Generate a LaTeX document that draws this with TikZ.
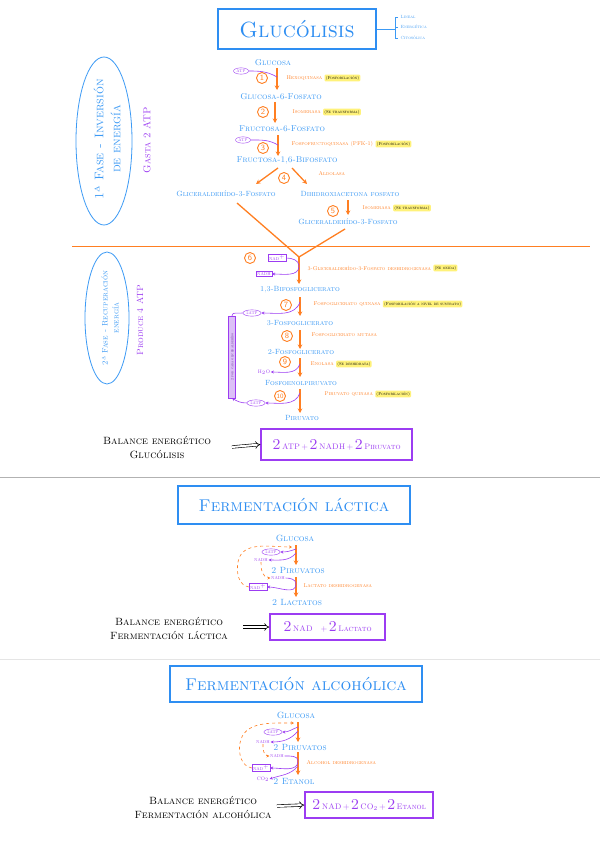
\documentclass[tikz,border=0pt]{standalone}
\usepackage{fontspec}
\usetikzlibrary{arrows.meta,shapes.geometric,positioning}
\definecolor{bl}{HTML}{3C9AF5}
\definecolor{tb}{HTML}{2E8EF2}
\definecolor{og}{HTML}{FF7F22}
\definecolor{pu}{HTML}{9C3CF2}
\definecolor{yl}{HTML}{FFF27A}
\definecolor{lav}{HTML}{DCC0F7}
\newcommand{\bigtwo}{{\fontsize{15}{15}\selectfont 2}}
\begin{document}
\begin{tikzpicture}[x=1pt,y=-1pt,
  bt/.style={text=bl, font=\fontsize{8.5}{9}\selectfont\scshape, inner sep=0.5pt},
  bts/.style={text=bl, font=\fontsize{7.5}{8}\selectfont\scshape, inner sep=0.5pt},
  ot/.style={text=og, font=\fontsize{5.5}{6}\selectfont\scshape, inner sep=0.5pt, anchor=west},
  hl/.style={fill=yl, rounded corners=1pt, font=\fontsize{4.2}{4.5}\selectfont\scshape, inner sep=1.2pt},
  num/.style={circle, draw=og, line width=0.9pt, text=og, minimum size=11pt, inner sep=0pt, font=\fontsize{8}{8}\selectfont\sffamily},
  oarr/.style={draw=og, line width=1.3pt, -{Stealth[length=4.5pt,width=4.5pt]}},
  pl/.style={draw=pu, line width=0.6pt},
  pell/.style={ellipse, draw=pu, text=pu, font=\fontsize{4}{4}\selectfont\scshape, inner sep=0.8pt},
  pbox/.style={draw=pu, text=pu, font=\fontsize{4.2}{4.5}\selectfont\scshape, inner sep=1pt},
  ptxt/.style={text=pu, font=\fontsize{4.2}{4.5}\selectfont\scshape, inner sep=0.5pt},
  odash/.style={draw=og, dashed, line width=0.6pt, -{Stealth[length=3pt,width=3pt]}},
  titlebox/.style={draw=tb, line width=2.5pt, text=tb, inner sep=0pt},
  resbox/.style={draw=pu, line width=1.5pt, text=pu, inner sep=0pt, font=\fontsize{8}{9}\selectfont\scshape},
  baltxt/.style={align=center, font=\fontsize{10.5}{14}\selectfont\scshape},
  dbl/.style={double, double distance=2pt, line width=0.6pt, -{Implies}}
]
\useasboundingbox (0,0) rectangle (600,848);
\fill[white] (0,0) rectangle (600,848);

% ---------------- Title ----------------
\node[titlebox, minimum width=158, minimum height=40, font=\fontsize{22}{22}\selectfont\scshape] (title) at (297,29) {Glucólisis};
\coordinate (br) at (395,29);
\draw[bl, line width=0.5pt] (title.east) -- (br);
\draw[bl, line width=0.5pt] (398,17) -- (395,17) -- (395,38) -- (398,38);
\draw[bl, line width=0.5pt] (395,27) -- (398,27);
\node[text=bl, font=\fontsize{4.5}{5}\selectfont\scshape, anchor=west, inner sep=0.5pt] (c1) at (400,17) {Lineal};
\node[text=bl, font=\fontsize{4.5}{5}\selectfont\scshape, anchor=west, inner sep=0.5pt] (c2) at (400,27) {Energética};
\node[text=bl, font=\fontsize{4.5}{5}\selectfont\scshape, anchor=west, inner sep=0.5pt] (c3) at (400,38) {Citosólica};

% ---------------- Phase labels ----------------
\node[ellipse, draw=bl, line width=0.8pt, minimum width=56, minimum height=168] (p1) at (104,141) {};
\node[rotate=90, align=center, text=bl, font=\fontsize{12.5}{17}\selectfont\scshape] (p1t) at (107,139) {1ª Fase - Inversión\\de energía};
\node[rotate=90, text=pu, font=\fontsize{10}{10}\selectfont\scshape] (p1g) at (147,140) {Gasta 2 ATP};

\node[ellipse, draw=bl, line width=0.8pt, minimum width=44, minimum height=132] (p2) at (107,318) {};
\node[rotate=90, align=center, text=bl, font=\fontsize{8}{11}\selectfont\scshape] (p2t) at (110,318) {2ª Fase - Recuperación\\energía};
\node[rotate=90, text=pu, font=\fontsize{9}{9}\selectfont\scshape] (p2g) at (140,320) {Produce 4 ATP};

\draw[og, line width=0.7pt] (72,246) -- (590,246);

% ---------------- Phase 1 steps ----------------
\node[bt] (g0) at (273,63) {Glucosa};
\coordinate (a1s) at (277,68); \coordinate (a1e) at (277,90); \coordinate (a1m) at (277,77);
\draw[oarr] (a1s) -- (a1e);
\node[pell] (atp1) at (241,71) {ATP};
\draw[pl] (atp1.east) to[out=0,in=150] (a1m);
\node[num] (n1) at (262,78) {1};
\node[ot] (e1) at (286,78) {Hexoquinasa};
\node[hl, right=1.5pt of e1] (h1) {(Fosforilación)};

\node[bt] (g1) at (281,97) {Glucosa-6-Fosfato};
\coordinate (a2s) at (275,102); \coordinate (a2e) at (275,123);
\draw[oarr] (a2s) -- (a2e);
\node[num] (n2) at (263,112) {2};
\node[ot] (e2) at (292,112) {Isomerasa};
\node[hl, right=1.5pt of e2] (h2) {(Se transforma)};

\node[bt] (g2) at (282,129) {Fructosa-6-Fosfato};
\coordinate (a3s) at (278,135); \coordinate (a3e) at (278,156); \coordinate (a3m) at (278,145);
\draw[oarr] (a3s) -- (a3e);
\node[pell] (atp2) at (243,140) {ATP};
\draw[pl] (atp2.east) to[out=0,in=150] (a3m);
\node[num] (n3) at (263,148) {3};
\node[ot] (e3) at (291,144) {Fosfofructoquinasa (PFK-1)};
\node[hl, right=1.5pt of e3] (h3) {(Fosforilación)};

\node[bt] (g3) at (287,160) {Fructosa-1,6-Bifosfato};
\coordinate (a4a) at (278,168); \coordinate (a4b) at (256,184);
\coordinate (a4c) at (292,168); \coordinate (a4d) at (307,184);
\draw[oarr] (a4a) -- (a4b);
\draw[oarr] (a4c) -- (a4d);
\node[num] (n4) at (284,178) {4};
\node[ot] (e4) at (318,174) {Aldolasa};

\node[bts] (g4) at (226,194) {Gliceraldehído-3-Fosfato};
\node[bts] (g5) at (350,194) {Dihidroxiacetona fosfato};
\coordinate (a5s) at (348,200); \coordinate (a5e) at (348,215);
\draw[oarr] (a5s) -- (a5e);
\node[num] (n5) at (333,211) {5};
\node[ot] (e5) at (362,208) {Isomerasa};
\node[hl, right=1.5pt of e5] (h5) {(Se transforma)};
\node[bts] (g6) at (348,222) {Gliceraldehído-3-Fosfato};

% ---------------- Y junction ----------------
\coordinate (yl1) at (237,203); \coordinate (yr1) at (345,229); \coordinate (yj) at (299,257);
\draw[og, line width=1.3pt] (yl1) -- (yj);
\draw[og, line width=1.3pt] (yr1) -- (yj);
\coordinate (a6e) at (299,284); \coordinate (a6m) at (299,266);
\draw[oarr] (yj) -- (a6e);
\node[num] (n6) at (250,258) {6};
\node[pbox] (nadp) at (277,258) {NAD$^+$};
\node[pbox] (nadh) at (264,274) {NADH};
\draw[pl, -{Stealth[length=3pt,width=3pt]}] (nadp.east) to[out=0,in=90] (a6m) to[out=270,in=0] (nadh.east);
\node[ot] (e6) at (307,268) {3-Gliceraldehído-3-Fosfato deshidrogenasa};
\node[hl, right=1.5pt of e6] (h6) {(Se oxida)};

% ---------------- Phase 2 steps ----------------
\node[bts] (g7) at (300,290) {1,3-Bifosfoglicerato};
\coordinate (a7s) at (300,297); \coordinate (a7e) at (300,316); \coordinate (a7m) at (300,302);
\draw[oarr] (a7s) -- (a7e);
\node[num] (n7) at (286,305) {7};
\node[ot] (e7) at (313,304) {Fosfoglicerato quinasa};
\node[hl, right=1.5pt of e7] (h7) {(Fosforilación a nivel de sustrato)};
\node[pell] (atp7) at (252,313) {2ATP};
\draw[pl, -{Stealth[length=3pt,width=3pt]}] (a7m) to[out=250,in=0] (atp7.east);

\node[bts] (g8) at (300,323) {3-Fosfoglicerato};
\coordinate (a8s) at (300,330); \coordinate (a8e) at (300,349);
\draw[oarr] (a8s) -- (a8e);
\node[num] (n8) at (287,336) {8};
\node[ot] (e8) at (311,335) {Fosfoglicerato mutasa};

\node[bts] (g9) at (301,352) {2-Fosfoglicerato};
\coordinate (a9s) at (300,358); \coordinate (a9e) at (300,377); \coordinate (a9m) at (300,364);
\draw[oarr] (a9s) -- (a9e);
\node[num] (n9) at (285,362) {9};
\node[ptxt, font=\fontsize{5}{5}\selectfont\scshape] (h2o) at (264,372) {H$_2$O};
\draw[pl, -{Stealth[length=3pt,width=3pt]}] (a9m) to[out=250,in=0] (h2o.east);
\node[ot] (e9) at (310,364) {Enolasa};
\node[hl, right=1.5pt of e9] (h9) {(Se deshidrata)};

\node[bts] (g10) at (301,383) {Fosfoenolpiruvato};
\coordinate (a10s) at (300,389); \coordinate (a10e) at (300,413); \coordinate (a10m) at (300,393);
\draw[oarr] (a10s) -- (a10e);
\node[num, font=\fontsize{6.5}{6.5}\selectfont\sffamily] (n10) at (280,396) {10};
\node[ot] (e10) at (324,394) {Piruvato quinasa};
\node[hl, right=1.5pt of e10] (h10) {(Fosforilación)};
\node[pell] (atp10) at (256,403) {2ATP};
\draw[pl, -{Stealth[length=3pt,width=3pt]}] (a10m) to[out=250,in=0] (atp10.east);

\node[bts] (g11) at (302,418) {Piruvato};

% ATP bar
\node[rotate=90, fill=lav, draw=pu, line width=0.4pt, minimum width=82, minimum height=7, inner sep=0.5pt, text=pu!60!black, font=\fontsize{3.5}{4}\selectfont\scshape] (bar) at (232,357) {2 por cada gliceraldehído};
\draw[pl] (atp7.west) to[out=190,in=90] (bar.east);
\draw[pl, -{Stealth[length=3pt,width=3pt]}] (atp10.west) to[out=180,in=-30] (bar.west);

% ---------------- Balance glucolisis ----------------
\node[baltxt] (bal1) at (157,448) {Balance energético\\Glucólisis};
\node[resbox, minimum width=151, minimum height=31] (res1) at (336.5,444.5) {\bigtwo\,ATP\,+\,\bigtwo\,NADH\,+\,\bigtwo\,Piruvato};
\coordinate (d1s) at (232,447);
\draw[dbl] (d1s) -- (res1.west);

\draw[black!30, line width=0.6pt] (0,477) -- (600,477);

% ---------------- Fermentación láctica ----------------
\node[titlebox, minimum width=232, minimum height=38, font=\fontsize{17}{17}\selectfont\scshape] (tl) at (294,505) {Fermentación láctica};
\node[bt, font=\fontsize{9}{9}\selectfont\scshape] (fg1) at (295,538) {Glucosa};
\coordinate (fa1s) at (296,545); \coordinate (fa1e) at (296,565);
\coordinate (fa1m) at (296,549); \coordinate (fa1n) at (296,553); \coordinate (fa1t) at (292,547);
\draw[oarr] (fa1s) -- (fa1e);
\node[bt, font=\fontsize{9}{9}\selectfont\scshape] (fp1) at (298,570) {2 Piruvatos};
\coordinate (fa2s) at (296,577); \coordinate (fa2e) at (296,597); \coordinate (fa2m) at (296,584);
\draw[oarr] (fa2s) -- (fa2e);
\node[ot] (fe1) at (303,586) {Lactato deshidrogenasa};
\node[bt, font=\fontsize{9}{9}\selectfont\scshape] (fl1) at (297,602) {2 Lactatos};
\node[pell] (fatp1) at (271,552) {2ATP};
\node[ptxt] (fnadh1) at (261,560) {NADH};
\node[ptxt] (fnadh2) at (278,578) {NADH};
\node[pbox] (fnad1) at (258,587) {NAD$^+$};
\draw[pl, -{Stealth[length=3pt,width=3pt]}] (fa1m) to[out=200,in=0] (fatp1.east);
\draw[pl, -{Stealth[length=3pt,width=3pt]}] (fa1n) to[out=230,in=0] (fnadh1.east);
\draw[pl, -{Stealth[length=3pt,width=3pt]}] (fnadh2.east) to[out=0,in=90] (fa2m) to[out=270,in=0] (fnad1.east);
\draw[odash] (fnadh1.south) to[out=265,in=180] (fnadh2.west);
\draw[odash] (fnad1.west) to[out=170,in=260] (238,562) to[out=80,in=180] (fa1t);

% Balance láctica
\node[baltxt] (bal2) at (169,628) {Balance energético\\Fermentación láctica};
\node[resbox, minimum width=115, minimum height=26] (res2) at (327.5,627) {\bigtwo\,NAD\quad+\,\bigtwo\,Lactato};
\coordinate (d2s) at (243,627);
\draw[dbl] (d2s) -- (res2.west);

\draw[black!10, line width=0.6pt] (0,659) -- (600,659);

% ---------------- Fermentación alcohólica ----------------
\node[titlebox, minimum width=252, minimum height=36, font=\fontsize{17}{17}\selectfont\scshape] (ta) at (296,684) {Fermentación alcohólica};
\node[bt, font=\fontsize{9}{9}\selectfont\scshape] (fg2) at (296,715) {Glucosa};
\coordinate (fb1s) at (298,722); \coordinate (fb1e) at (298,742);
\coordinate (fb1m) at (298,727); \coordinate (fb1n) at (298,731); \coordinate (fb1t) at (294,723);
\draw[oarr] (fb1s) -- (fb1e);
\node[bt, font=\fontsize{9}{9}\selectfont\scshape] (fp2) at (300,747) {2 Piruvatos};
\coordinate (fb2s) at (298,752); \coordinate (fb2e) at (298,775);
\coordinate (fb2m) at (298,761); \coordinate (fb2n) at (298,766);
\draw[oarr] (fb2s) -- (fb2e);
\node[ot] (fe2) at (306,763) {Alcohol deshidrogenasa};
\node[bt, font=\fontsize{9}{9}\selectfont\scshape] (fet) at (294,781) {2 Etanol};
\node[pell] (fatp2) at (273,732) {2ATP};
\node[ptxt] (fnadh3) at (263,742) {NADH};
\node[ptxt] (fnadh4) at (277,756) {NADH};
\node[pbox] (fnad2) at (261,768) {NAD$^+$};
\node[ptxt, font=\fontsize{5}{5}\selectfont\scshape] (fco2) at (263,779) {CO$_2$};
\draw[pl, -{Stealth[length=3pt,width=3pt]}] (fb1m) to[out=200,in=0] (fatp2.east);
\draw[pl, -{Stealth[length=3pt,width=3pt]}] (fb1n) to[out=230,in=0] (fnadh3.east);
\draw[pl, -{Stealth[length=3pt,width=3pt]}] (fnadh4.east) to[out=0,in=90] (fb2m) to[out=270,in=0] (fnad2.east);
\draw[pl, -{Stealth[length=3pt,width=3pt]}] (fb2n) to[out=230,in=20] (fco2.east);
\draw[odash] (fnadh3.south) to[out=265,in=180] (fnadh4.west);
\draw[odash] (fnad2.west) to[out=170,in=260] (240,743) to[out=80,in=180] (fb1t);

% Balance alcohólica
\node[baltxt] (bal3) at (203,807) {Balance energético\\Fermentación alcohólica};
\node[resbox, minimum width=128, minimum height=26] (res3) at (369,805) {\bigtwo\,NAD\,+\,\bigtwo\,CO$_2$\,+\,\bigtwo\,Etanol};
\coordinate (d3s) at (277,806);
\draw[dbl] (d3s) -- (res3.west);
\end{tikzpicture}
\end{document}
